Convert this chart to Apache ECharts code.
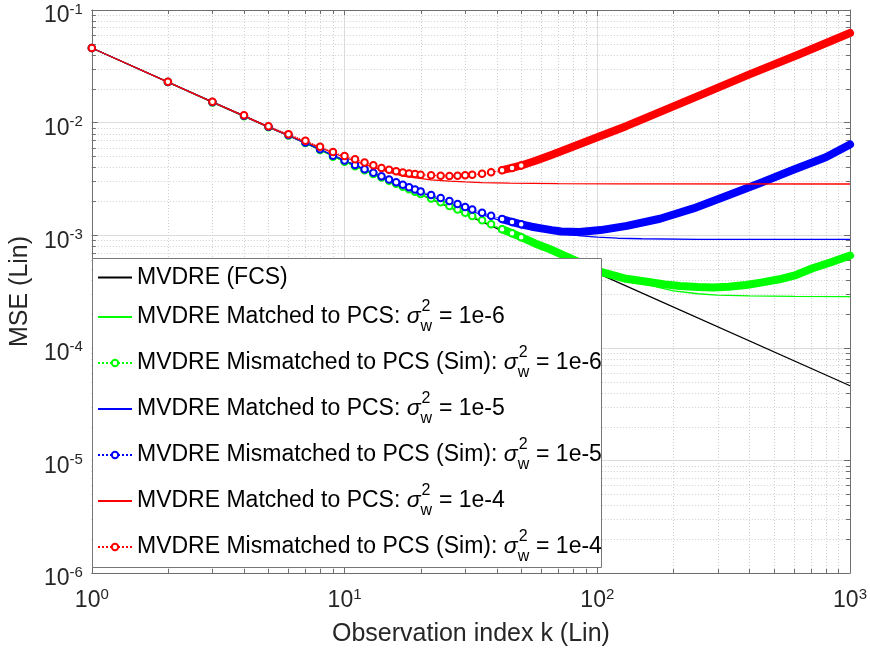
<!DOCTYPE html>
<html><head><meta charset="utf-8">
<script src="https://cdn.jsdelivr.net/npm/echarts@6/dist/echarts.min.js"></script>
<style>html,body{margin:0;padding:0;background:#fff}#c{width:870px;height:656px}</style>
</head><body><div id="c"></div>
<script>
// ---------- data ----------
const kFCS = [1, 10, 100, 1000];
const mseFCS = [0.046, 0.0046, 0.00046, 0.000046];

// mismatched (simulated) values at the individually visible markers
const kMis = [1,2,3,4,5,6,7,8,9,10,11,12,13,14,15,16,17,18,19,20,22,24,26,28,30,32,35,38,42,46,50];
const misG4 = [0.046,0.0230,0.0153,0.0116,0.0093,0.0079,0.0069,0.0061,0.00548,0.00505,0.00472,0.00442,0.00418,0.00396,0.00381,0.00370,0.00361,0.00354,0.00349,0.00345,0.00340,0.00337,0.00336,0.00337,0.00340,0.00344,0.00352,0.00362,0.00378,0.00396,0.00416];
const misG5 = [0.046,0.0229,0.0152,0.0115,0.0092,0.00775,0.00665,0.0058,0.00508,0.0046,0.0042,0.00386,0.00358,0.00333,0.00313,0.00295,0.0028,0.00267,0.00255,0.00245,0.00228,0.00214,0.00201,0.00189,0.00178,0.00169,0.00158,0.00149,0.00139,0.00131,0.00125];
const misG6 = [0.046,0.0229,0.0151,0.0114,0.0091,0.0077,0.0066,0.0057,0.00497,0.0045,0.0041,0.00377,0.00349,0.00325,0.00304,0.00286,0.0027,0.00256,0.00243,0.00232,0.00212,0.00196,0.00182,0.00169,0.00158,0.00148,0.00136,0.00125,0.00113,0.00104,0.00096];

// dense-marker region (markers merge into a thick band)
const kBandG4 = [42, 46, 50, 57, 65, 80, 100, 130, 160, 250, 400, 630, 1000];
const bandG4 = [0.00378, 0.00396, 0.00416, 0.00458, 0.0051, 0.0061, 0.0074, 0.0093, 0.0113, 0.0172, 0.0268, 0.0405, 0.0625];
const kBandG5 = [42, 46, 50, 55, 60, 66, 72, 85, 103, 131, 177, 240, 324, 439, 593, 802, 1000];
const bandG5 = [0.00139, 0.00131, 0.00125, 0.00119, 0.00115, 0.00111, 0.00108, 0.00107, 0.00111, 0.00121, 0.0014, 0.00173, 0.00223, 0.00289, 0.00379, 0.00492, 0.0064];
const kBandG6 = [42, 46, 50, 57, 65, 80, 104, 116, 130, 157, 185, 212, 250, 287, 330, 388, 450, 525, 611, 711, 830, 1000];
const bandG6 = [0.00113, 0.00104, 0.00096, 0.00084, 0.00075, 0.00061, 0.00047, 0.00044, 0.00041, 0.000386, 0.000366, 0.000354, 0.000347, 0.000344, 0.000348, 0.000361, 0.000381, 0.000406, 0.000443, 0.000508, 0.00057, 0.00066];

// matched curves
const kMatG4 = [1,2,3,4,5,6,8,10,13,17,22,26,30,35,45,70,120,1000];
const matG4 = [0.046,0.0229,0.0152,0.0114,0.0091,0.0077,0.0060,0.0049,0.0040,0.00335,0.0031,0.00302,0.00297,0.00293,0.0029,0.00287,0.00286,0.00285];
const kMatG5 = [1,2,3,5,7,10,15,20,30,40,50,65,86,100,120,150,250,1000];
const matG5 = [0.046,0.0229,0.0152,0.0091,0.0066,0.0046,0.0031,0.0024,0.0017,0.00138,0.0012,0.00106,0.000985,0.00096,0.00094,0.00093,0.00092,0.00092];
const kMatG6 = [1,2,3,5,7,10,15,20,30,40,50,65,80,100,130,160,200,250,300,400,600,1000];
const matG6 = [0.046,0.0229,0.0151,0.0091,0.0066,0.0045,0.003,0.0023,0.00155,0.00117,0.00094,0.00074,0.00061,0.00047,0.0004,0.00036,0.00032,0.000302,0.000294,0.000289,0.000286,0.000285];

const legendNames = [
  'MVDRE (FCS)',
  'MVDRE Matched to PCS: σw2 = 1e-6',
  'MVDRE Mismatched to PCS (Sim): σw2 = 1e-6',
  'MVDRE Matched to PCS: σw2 = 1e-5',
  'MVDRE Mismatched to PCS (Sim): σw2 = 1e-5',
  'MVDRE Matched to PCS: σw2 = 1e-4',
  'MVDRE Mismatched to PCS (Sim): σw2 = 1e-4'
];
const legendHasMarker = [false, false, true, false, true, false, true];
const xMin = 1, xMax = 1000, yMin = 1e-6, yMax = 1e-1;
const xTitle = 'Observation index k (Lin)';
const yTitle = 'MSE (Lin)';

// minor tick positions (2..9 times each decade)
const xMinor = [], yMinor = [];
for (let e = 0; e < 3; e++) for (let m = 2; m <= 9; m++) xMinor.push(m * Math.pow(10, e));
for (let e = -6; e < -1; e++) for (let m = 2; m <= 9; m++) yMinor.push(+(m * Math.pow(10, e)).toPrecision(3));

// ---------- chart ----------
const FONT = '"Liberation Sans", Arial, Helvetica, sans-serif';
const zip = (a, b) => a.map((v, i) => [v, b[i]]);
const AX = '#6e6e6e';
const tickRich = {
  b: { fontSize: 23, lineHeight: 28, fontFamily: FONT, color: '#262626' },
  s: { fontSize: 15, lineHeight: 15, verticalAlign: 'top', fontFamily: FONT, color: '#262626' }
};
const powFmt = v => '{b|10}{s|' + Math.round(Math.log10(v)) + '}';

function minorRender(isX) {
  return function (params, api) {
    const cs = params.coordSys;
    const p = api.coord([api.value(0), api.value(1)]);
    const ch = [];
    if (isX) {
      const x = Math.round(p[0]) + 0.5;
      ch.push({ type: 'line', shape: { x1: x, y1: cs.y, x2: x, y2: cs.y + cs.height }, style: { stroke: '#cfcfcf', lineWidth: 1, lineDash: [1, 2] } });
      ch.push({ type: 'line', shape: { x1: x, y1: cs.y + cs.height, x2: x, y2: cs.y + cs.height - 4 }, style: { stroke: AX, lineWidth: 1 } });
      ch.push({ type: 'line', shape: { x1: x, y1: cs.y, x2: x, y2: cs.y + 4 }, style: { stroke: AX, lineWidth: 1 } });
    } else {
      const y = Math.round(p[1]) + 0.5;
      ch.push({ type: 'line', shape: { x1: cs.x, y1: y, x2: cs.x + cs.width, y2: y }, style: { stroke: '#cfcfcf', lineWidth: 1, lineDash: [1, 2] } });
      ch.push({ type: 'line', shape: { x1: cs.x, y1: y, x2: cs.x + 4, y2: y }, style: { stroke: AX, lineWidth: 1 } });
      ch.push({ type: 'line', shape: { x1: cs.x + cs.width, y1: y, x2: cs.x + cs.width - 4, y2: y }, style: { stroke: AX, lineWidth: 1 } });
    }
    return { type: 'group', children: ch };
  };
}

function matched(name, color, ks, vs) {
  return { name, type: 'line', data: zip(ks, vs), symbol: 'none', showSymbol: false,
    lineStyle: { color, width: 1.3 }, itemStyle: { color }, silent: true, z: 2 };
}
function mism(name, color, ks, vs) {
  return { name, type: 'line', data: zip(ks, vs), symbol: 'emptyCircle', symbolSize: 6.5, showSymbol: true,
    lineStyle: { color, width: 1, type: 'dotted' }, itemStyle: { color, borderColor: color, borderWidth: 1.3 }, silent: true, z: 2 };
}
function band(name, color, ks, vs) {
  return { name, type: 'line', data: zip(ks, vs), symbol: 'none', showSymbol: false,
    lineStyle: { color, width: 8, cap: 'round', join: 'round' }, silent: true, z: 2 };
}

const RED = '#ff0000', GREEN = '#00ff00', BLUE = '#0000ff';

const option = {
  animation: false,
  backgroundColor: '#fff',
  textStyle: { fontFamily: FONT },
  grid: { left: 89, right: 19, top: 10, bottom: 83, containLabel: false },
  xAxis: [
    { type: 'log', logBase: 10, min: xMin, max: xMax, position: 'bottom',
      axisLine: { show: true, onZero: false, lineStyle: { color: AX, width: 1 } },
      axisTick: { show: true, inside: true, length: 6, lineStyle: { color: AX } },
      axisLabel: { formatter: powFmt, margin: 14, rich: tickRich, showMinLabel: true, showMaxLabel: true },
      splitLine: { show: true, lineStyle: { color: '#dcdcdc', width: 1 } },
      name: xTitle, nameLocation: 'middle', nameGap: 49,
      nameTextStyle: { fontSize: 25, color: '#262626', fontFamily: FONT } },
    { type: 'log', logBase: 10, min: xMin, max: xMax, position: 'top',
      axisLine: { show: true, onZero: false, lineStyle: { color: AX, width: 1 } },
      axisTick: { show: true, inside: true, length: 6, lineStyle: { color: AX } },
      axisLabel: { show: false }, splitLine: { show: false } }
  ],
  yAxis: [
    { type: 'log', logBase: 10, min: yMin, max: yMax, position: 'left',
      axisLine: { show: true, onZero: false, lineStyle: { color: AX, width: 1 } },
      axisTick: { show: true, inside: true, length: 6, lineStyle: { color: AX } },
      axisLabel: { formatter: powFmt, margin: 9, rich: tickRich, padding: [12, 0, 0, 0], showMinLabel: true, showMaxLabel: true },
      splitLine: { show: true, lineStyle: { color: '#dcdcdc', width: 1 } },
      name: yTitle, nameLocation: 'middle', nameGap: 51,
      nameTextStyle: { fontSize: 25, color: '#262626', fontFamily: FONT } },
    { type: 'log', logBase: 10, min: yMin, max: yMax, position: 'right',
      axisLine: { show: true, onZero: false, lineStyle: { color: AX, width: 1 } },
      axisTick: { show: true, inside: true, length: 6, lineStyle: { color: AX } },
      axisLabel: { show: false }, splitLine: { show: false } }
  ],
  legend: {
    orient: 'vertical', left: 97, top: 266, padding: 0, itemGap: 10,
    itemWidth: 34, itemHeight: 8, selectedMode: false,
    data: legendNames.map((n, i) => legendHasMarker[i] ? n : { name: n, itemStyle: { opacity: 0 } }),
    formatter: function (name) {
      const i = name.indexOf('σw2');
      if (i < 0) return '{a|' + name + '}';
      return '{t|' + name.slice(0, i) + '}{sg|σ}{w|w}{p|2}{t|' + name.slice(i + 3) + '}';
    },
    textStyle: {
      fontSize: 23, color: '#000', fontFamily: FONT,
      rich: {
        a: { fontSize: 23, lineHeight: 12, color: '#000', fontFamily: FONT },
        t: { fontSize: 23, lineHeight: 36, color: '#000', fontFamily: FONT },
        sg: { fontSize: 23, lineHeight: 36, color: '#000', fontFamily: FONT, fontStyle: 'italic' },
        w: { fontSize: 16, lineHeight: 12, verticalAlign: 'bottom', width: 1, color: '#000', fontFamily: FONT },
        p: { fontSize: 16, lineHeight: 18, verticalAlign: 'top', width: 11, color: '#000', fontFamily: FONT }
      }
    }
  },
  graphic: [
    { type: 'rect', left: 92, top: 258, z: 3, silent: true,
      shape: { width: 509, height: 309 },
      style: { fill: '#fff', stroke: '#777', lineWidth: 1 } }
  ],
  series: [
    { type: 'custom', coordinateSystem: 'cartesian2d', silent: true, z: 1, clip: false,
      data: xMinor.map(v => [v, yMin]), renderItem: minorRender(true) },
    { type: 'custom', coordinateSystem: 'cartesian2d', silent: true, z: 1, clip: false,
      data: yMinor.map(v => [xMin, v]), renderItem: minorRender(false) },
    { name: legendNames[0], type: 'line', data: zip(kFCS, mseFCS), symbol: 'none', showSymbol: false,
      lineStyle: { color: '#000', width: 1.3 }, itemStyle: { color: '#000' }, silent: true, z: 2 },
    matched(legendNames[1], GREEN, kMatG6, matG6),
    mism(legendNames[2], GREEN, kMis, misG6),
    band('bandG6', GREEN, kBandG6, bandG6),
    matched(legendNames[3], BLUE, kMatG5, matG5),
    mism(legendNames[4], BLUE, kMis, misG5),
    band('bandG5', BLUE, kBandG5, bandG5),
    matched(legendNames[5], RED, kMatG4, matG4),
    mism(legendNames[6], RED, kMis, misG4),
    band('bandG4', RED, kBandG4, bandG4)
  ]
};
const chart = echarts.init(document.getElementById('c'), null, { renderer: 'canvas' });
chart.setOption(option);
</script></body></html>
